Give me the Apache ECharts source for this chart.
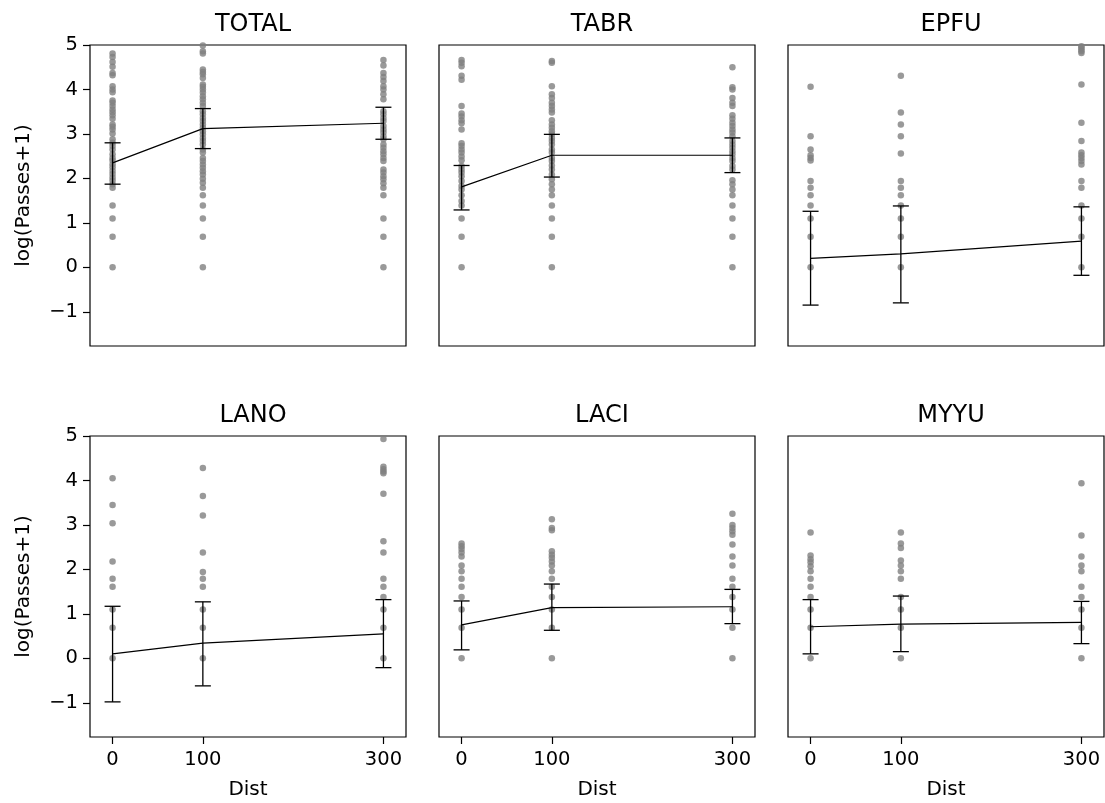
<!DOCTYPE html>
<html>
<head>
<meta charset="utf-8">
<script src="https://cdn.jsdelivr.net/npm/echarts@6/dist/echarts.min.js"></script>
<style>
  html, body { margin: 0; padding: 0; background: #fff; }
  #chart { width: 1105px; height: 803px; }
</style>
</head>
<body>
<div id="chart"></div>
<script>
// Panels (species) and the distance levels on the x axis
const panels = ['TOTAL', 'TABR', 'EPFU', 'LANO', 'LACI', 'MYYU'];
const dist = [0, 100, 300];
const xTicks = [0, 100, 300];
const yTicks = [-1, 0, 1, 2, 3, 4, 5];

// Individual observations, log(Passes+1), one list per distance
const totalPts = [
  [4.81, 4.73, 4.62, 4.51, 4.37, 4.32, 4.07, 4.0, 3.94, 3.75, 3.70, 3.63, 3.55, 3.49, 3.42, 3.34, 3.21, 3.16, 3.10, 3.01, 2.88, 2.80, 2.73, 2.65, 2.54, 2.46, 2.40, 2.32, 2.25, 2.17, 2.10, 2.02, 1.95, 1.87, 1.79, 1.39, 1.10, 0.69, 0],
  [4.99, 4.86, 4.81, 4.45, 4.39, 4.34, 4.26, 4.11, 4.06, 4.0, 3.93, 3.85, 3.78, 3.70, 3.63, 3.51, 3.44, 3.36, 3.29, 3.21, 3.14, 3.06, 2.99, 2.91, 2.84, 2.76, 2.65, 2.58, 2.46, 2.39, 2.31, 2.24, 2.16, 2.09, 1.99, 1.90, 1.79, 1.62, 1.39, 1.10, 0.69, 0],
  [4.66, 4.54, 4.37, 4.28, 4.19, 4.07, 4.0, 3.89, 3.78, 3.51, 3.44, 3.36, 3.29, 3.18, 3.10, 3.03, 2.95, 2.88, 2.76, 2.69, 2.61, 2.54, 2.46, 2.39, 2.20, 2.13, 2.05, 1.98, 1.89, 1.79, 1.62, 1.10, 0.69, 0]
];
const tabrPts = [
  [4.66, 4.60, 4.52, 4.31, 4.22, 3.63, 3.46, 3.39, 3.31, 3.24, 3.10, 2.79, 2.73, 2.65, 2.58, 2.49, 2.41, 2.28, 2.20, 2.13, 2.05, 1.94, 1.83, 1.75, 1.62, 1.49, 1.39, 1.10, 0.69, 0],
  [4.64, 4.60, 4.07, 3.89, 3.81, 3.70, 3.63, 3.55, 3.48, 3.31, 3.21, 3.14, 3.06, 2.99, 2.91, 2.84, 2.76, 2.65, 2.58, 2.46, 2.39, 2.29, 2.20, 2.09, 1.98, 1.87, 1.75, 1.62, 1.39, 1.10, 0.69, 0],
  [4.50, 4.05, 4.0, 3.81, 3.70, 3.63, 3.42, 3.34, 3.25, 3.18, 3.10, 3.03, 2.95, 2.84, 2.76, 2.69, 2.61, 2.54, 2.46, 2.39, 2.28, 2.20, 1.96, 1.87, 1.75, 1.62, 1.39, 1.10, 0.69, 0]
];
const epfuPts = [
  [4.06, 2.95, 2.65, 2.52, 2.46, 2.40, 1.94, 1.79, 1.62, 1.39, 1.10, 0.69, 0],
  [4.31, 3.48, 3.21, 2.95, 2.56, 1.94, 1.79, 1.62, 1.39, 1.10, 0.69, 0],
  [4.97, 4.94, 4.90, 4.86, 4.82, 4.11, 3.25, 2.84, 2.58, 2.52, 2.46, 2.39, 2.31, 1.94, 1.79, 1.39, 1.10, 0.69, 0]
];
const lanoPts = [
  [4.05, 3.45, 3.04, 2.18, 1.79, 1.61, 1.10, 0.69, 0],
  [4.28, 3.65, 3.21, 2.38, 1.94, 1.79, 1.61, 1.10, 0.69, 0],
  [4.93, 4.31, 4.25, 4.20, 4.16, 3.70, 2.63, 2.38, 1.79, 1.61, 1.38, 1.10, 0.69, 0]
];
const laciPts = [
  [2.58, 2.52, 2.46, 2.38, 2.29, 2.09, 1.96, 1.79, 1.61, 1.38, 1.10, 0.69, 0],
  [3.13, 2.93, 2.88, 2.41, 2.33, 2.26, 2.18, 2.09, 1.96, 1.79, 1.61, 1.38, 1.10, 0.69, 0],
  [3.25, 3.0, 2.93, 2.86, 2.78, 2.56, 2.29, 2.09, 1.79, 1.61, 1.38, 1.10, 0.69, 0]
];
const myyuPts = [
  [2.83, 2.31, 2.23, 2.16, 2.07, 1.96, 1.79, 1.61, 1.38, 1.10, 0.69, 0],
  [2.83, 2.58, 2.48, 2.20, 2.09, 1.96, 1.79, 1.38, 1.10, 0.69, 0],
  [3.94, 2.76, 2.29, 2.09, 1.96, 1.61, 1.38, 1.10, 0.69, 0]
];
const pointsByPanel = [totalPts, tabrPts, epfuPts, lanoPts, laciPts, myyuPts];

// Group means and error-bar ends at each distance
const meanByPanel = [
  [2.35, 3.12, 3.24], [1.81, 2.52, 2.52], [0.20, 0.30, 0.59],
  [0.10, 0.34, 0.55], [0.75, 1.14, 1.16], [0.71, 0.77, 0.81]
];
const lowByPanel = [
  [1.87, 2.67, 2.88], [1.29, 2.03, 2.13], [-0.85, -0.80, -0.18],
  [-0.98, -0.62, -0.21], [0.19, 0.63, 0.78], [0.10, 0.15, 0.33]
];
const highByPanel = [
  [2.80, 3.57, 3.60], [2.29, 2.99, 2.91], [1.26, 1.38, 1.36],
  [1.17, 1.27, 1.32], [1.29, 1.67, 1.55], [1.32, 1.40, 1.28]
];

const FONT = 'DejaVu Sans';
const gridLefts = [90, 439, 788];
const gridTops = [45, 436];
const gridW = 316, gridH = 301;

const grids = [], xAxes = [], yAxes = [], titles = [], series = [];

panels.forEach((name, i) => {
  const col = i % 3, row = Math.floor(i / 3);
  const bottomRow = row === 1, firstCol = col === 0;
  grids.push({
    left: gridLefts[col], top: gridTops[row], width: gridW, height: gridH,
    show: true, borderColor: '#000', borderWidth: 1.2, backgroundColor: '#fff'
  });
  titles.push({
    text: name, left: gridLefts[col] + gridW / 2, top: gridTops[row] - 37,
    textAlign: 'center',
    textStyle: { fontFamily: FONT, fontSize: 24, fontWeight: 'normal', color: '#000' }
  });
  xAxes.push({
    gridIndex: i, type: 'value', min: -25, max: 325,
    name: bottomRow ? 'Dist' : '', nameLocation: 'middle', nameGap: 43,
    nameTextStyle: { fontFamily: FONT, fontSize: 20, color: '#000' },
    axisLine: { show: false, onZero: false },
    axisTick: { show: bottomRow, customValues: xTicks, length: 7, lineStyle: { color: '#000', width: 1.2 } },
    axisLabel: { show: bottomRow, customValues: xTicks, margin: 13, fontFamily: FONT, fontSize: 19.5, color: '#000' },
    splitLine: { show: false }
  });
  yAxes.push({
    gridIndex: i, type: 'value', min: -1.77, max: 5,
    name: firstCol ? 'log(Passes+1)' : '', nameLocation: 'middle', nameGap: 56, nameRotate: 90,
    nameTextStyle: { fontFamily: FONT, fontSize: 20, color: '#000' },
    axisLine: { show: false, onZero: false },
    axisTick: { show: firstCol, customValues: yTicks, length: 7, lineStyle: { color: '#000', width: 1.2 } },
    axisLabel: {
      show: firstCol, customValues: yTicks, margin: 12, fontFamily: FONT, fontSize: 19.5, color: '#000',
      formatter: v => (v < 0 ? '\u2212' + Math.abs(v) : String(v))
    },
    splitLine: { show: false }
  });

  const pts = [];
  pointsByPanel[i].forEach((vals, k) => vals.forEach(v => pts.push([dist[k], v])));
  series.push({
    type: 'scatter', xAxisIndex: i, yAxisIndex: i, data: pts,
    symbol: 'circle', symbolSize: 6.5, itemStyle: { color: '#808080' },
    z: 1, silent: true
  });
  series.push({
    type: 'line', xAxisIndex: i, yAxisIndex: i,
    data: dist.map((d, k) => [d, meanByPanel[i][k]]),
    symbol: 'none', lineStyle: { color: '#000', width: 1.2 }, z: 3, silent: true
  });
  series.push({
    type: 'custom', xAxisIndex: i, yAxisIndex: i, clip: false, z: 4, silent: true,
    data: dist.map((d, k) => [d, lowByPanel[i][k], highByPanel[i][k]]),
    encode: { x: 0, y: [1, 2] },
    renderItem: (params, api) => {
      const lo = api.coord([api.value(0), api.value(1)]);
      const hi = api.coord([api.value(0), api.value(2)]);
      const cap = 8;
      const st = { stroke: '#000', lineWidth: 1.3 };
      return {
        type: 'group',
        children: [
          { type: 'line', shape: { x1: lo[0], y1: lo[1], x2: hi[0], y2: hi[1] }, style: st },
          { type: 'line', shape: { x1: lo[0] - cap, y1: lo[1], x2: lo[0] + cap, y2: lo[1] }, style: st },
          { type: 'line', shape: { x1: hi[0] - cap, y1: hi[1], x2: hi[0] + cap, y2: hi[1] }, style: st }
        ]
      };
    }
  });
});

const chart = echarts.init(document.getElementById('chart'), null, { renderer: 'canvas' });
chart.setOption({
  animation: false,
  backgroundColor: '#fff',
  title: titles,
  grid: grids,
  xAxis: xAxes,
  yAxis: yAxes,
  series: series
});
</script>
</body>
</html>
